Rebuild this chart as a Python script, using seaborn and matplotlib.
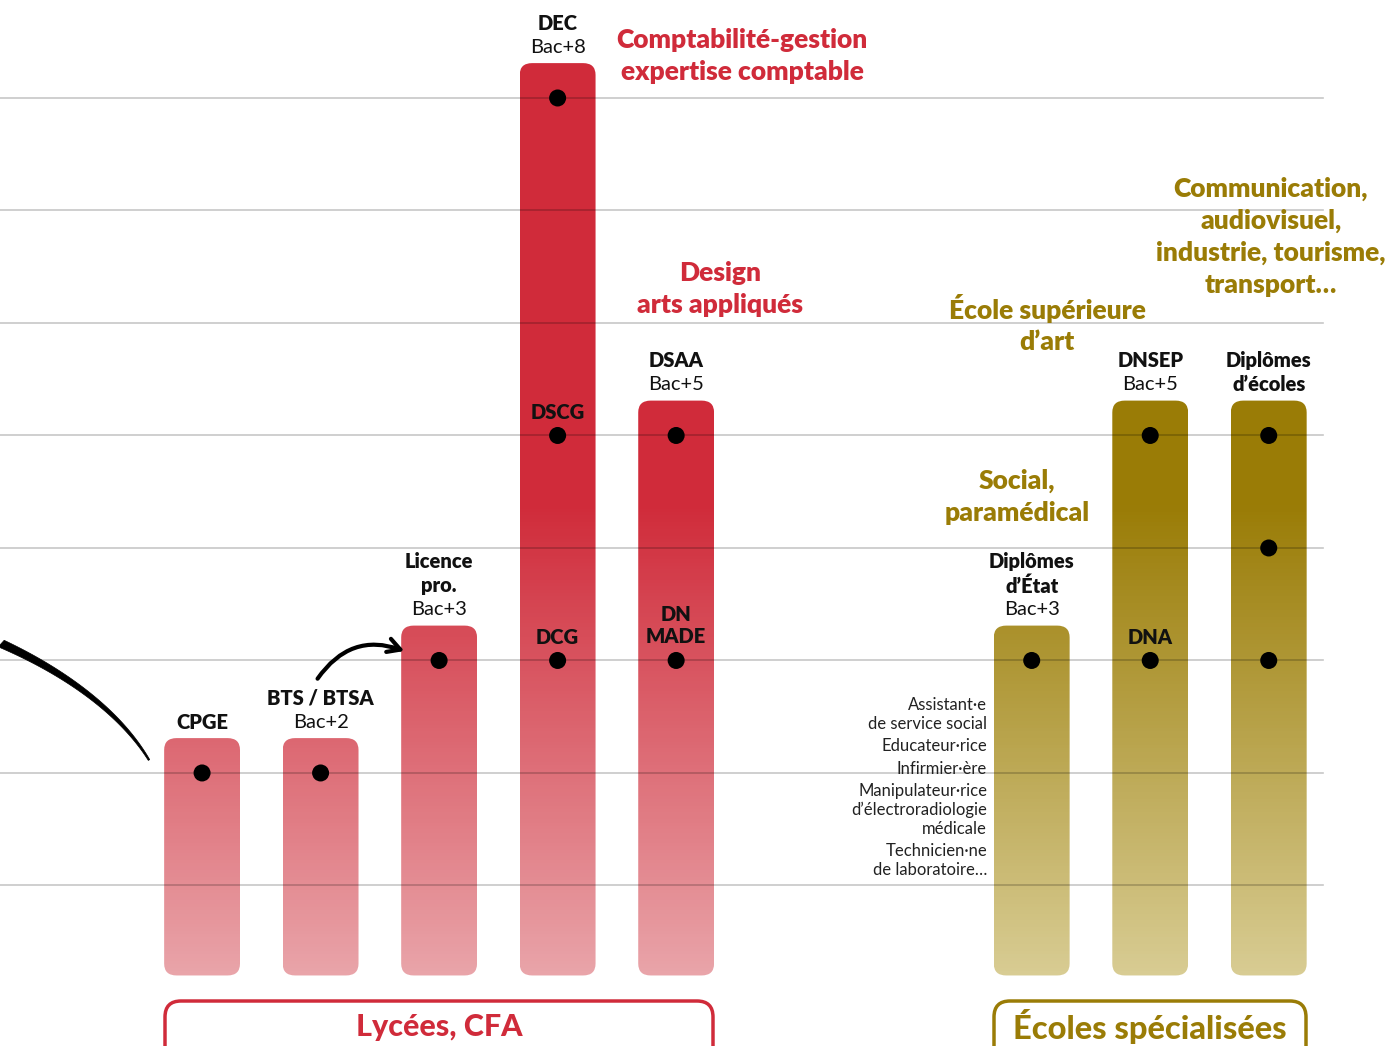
import numpy as np
import matplotlib.pyplot as plt
import matplotlib.colors as mcolors
from matplotlib.patches import FancyBboxPatch, FancyArrowPatch, PathPatch
from matplotlib.path import Path
import seaborn as sns

# one bar per diploma: slot on the x scale and highest level reached (years after bac)
diplomes = ['CPGE', 'BTS / BTSA', 'Licence pro.', 'DEC', 'DSAA',
            "Diplômes d'État", 'DNSEP', "Diplômes d'écoles"]
positions = [0, 1, 2, 3, 4, 7, 8, 9]
niveau_max = [2, 2, 3, 8, 5, 3, 5, 5]
filiere = ['lycee', 'lycee', 'lycee', 'lycee', 'lycee', 'ecole', 'ecole', 'ecole']

# dots: bar index + level
points_bar = [0, 1, 2, 3, 3, 3, 4, 4, 5, 6, 6, 7, 7, 7]
points_niveau = [2, 2, 3, 3, 5, 8, 3, 5, 3, 3, 5, 3, 4, 5]

# labels above bars (bottom line first), True = bold
labels_haut = [
    [('CPGE', True)],
    [('Bac+2', False), ('BTS / BTSA', True)],
    [('Bac+3', False), ('pro.', True), ('Licence', True)],
    [('Bac+8', False), ('DEC', True)],
    [('Bac+5', False), ('DSAA', True)],
    [('Bac+3', False), ('d’État', True), ('Diplômes', True)],
    [('Bac+5', False), ('DNSEP', True)],
    [('d’écoles', True), ('Diplômes', True)],
]
# labels inside bars: bar index, level, text
labels_dedans_bar = [3, 3, 4, 6]
labels_dedans_niv = [5, 3, 3, 3]
labels_dedans_txt = ['DSCG', 'DCG', 'DN\nMADE', 'DNA']

metiers_social = ['Assistant·e', 'de service social', 'Educateur·rice', 'Infirmier·ère',
                  'Manipulateur·rice', 'd’électroradiologie', 'médicale',
                  'Technicien·ne', 'de laboratoire…']

ROUGE, ROSE = '#d02b3a', '#e9a4a9'
OLIVE, SABLE = '#9a7c06', '#d8cc93'
couleurs = {'lycee': (ROUGE, ROSE), 'ecole': (OLIVE, SABLE)}

FONT = ['Lato', 'DejaVu Sans']
plt.rcParams['font.family'] = FONT

fig = plt.figure(figsize=(13.92, 10.46), dpi=100)
ax = fig.add_axes([0, 0, 1, 1])

heights = [n + 0.31 for n in niveau_max]
sns.barplot(x=positions, y=heights, native_scale=True, width=0.64,
            color=ROUGE, ax=ax, zorder=1)

ax.set_xlim(-1.705, 10.04)
ax.set_ylim(-0.427, 8.871)
ax.axis('off')

# vertical gradient: solid colour above ~Bac+4.4, fading to pale at the bottom
grad = np.clip((np.linspace(0, 9, 300) - 0.2) / (4.4 - 0.2), 0, 1)[:, None]
bottom = 0.2
for i, p in enumerate(ax.patches[:len(positions)]):
    x0, w, h = p.get_x(), p.get_width(), p.get_height()
    p.set_visible(False)
    top_c, bot_c = couleurs[filiere[i]]
    cmap = mcolors.LinearSegmentedColormap.from_list('g', [bot_c, top_c])
    box = FancyBboxPatch((x0, bottom), w, h - bottom,
                         boxstyle='round,pad=0,rounding_size=0.105',
                         mutation_aspect=1.0, fc='none', ec='none',
                         transform=ax.transData)
    ax.add_patch(box)
    im = ax.imshow(grad, cmap=cmap, vmin=0, vmax=1, origin='lower', aspect='auto',
                   extent=[x0, x0 + w, 0, 9], zorder=1)
    im.set_clip_path(box)

ax.set_xlim(-1.705, 10.04)
ax.set_ylim(-0.427, 8.871)

for lvl in range(1, 9):
    ax.axhline(lvl, xmin=0, xmax=1323 / 1392, color='black', alpha=0.22, lw=1.2, zorder=2)

sns.scatterplot(x=[positions[b] for b in points_bar], y=points_niveau, color='black',
                s=150, edgecolor='none', ax=ax, zorder=4, legend=False)

for i, lines in enumerate(labels_haut):
    top = heights[i]
    for k, (txt, bold) in enumerate(lines):
        ax.text(positions[i], top + 0.14 + 0.213 * k, txt, ha='center', va='center',
                fontsize=14.5, fontweight='heavy' if bold else 'normal', color='#111111',
                zorder=5)

for b, n, txt in zip(labels_dedans_bar, labels_dedans_niv, labels_dedans_txt):
    nl = txt.count('\n')
    ax.text(positions[b], n + 0.2 + 0.11 * nl, txt, ha='center', va='center', fontsize=14.5,
            fontweight='heavy', color='#111111', linespacing=1.15, zorder=5)

# overlay in pixel coordinates for the free texts and decorations
ov = fig.add_axes([0, 0, 1, 1], facecolor='none')
ov.set_xlim(0, 1392)
ov.set_ylim(1046, 0)
ov.axis('off')

def titre(x, y, txt, col):
    ov.text(x, y, txt, ha='center', va='center', fontsize=19, fontweight='heavy',
            color=col, linespacing=1.38)

titre(742, 56, 'Comptabilité-gestion\nexpertise comptable', ROUGE)
titre(720, 289, 'Design\narts appliqués', ROUGE)
titre(1047, 324, 'École supérieure\nd’art', OLIVE)
titre(1271, 237, 'Communication,\naudiovisuel,\nindustrie, tourisme,\ntransport…', OLIVE)
titre(1017, 497, 'Social,\nparamédical', OLIVE)

ys = [705, 724, 746, 769, 791, 810, 829, 851, 870]
for y, txt in zip(ys, metiers_social):
    ov.text(987, y, txt, ha='right', va='center', fontsize=12, color='#222222')

# bottom group boxes
for x0, x1, txt, col, fs in [(165, 713, 'Lycées, CFA', ROUGE, 22),
                             (994, 1306, 'Écoles spécialisées', OLIVE, 23.5)]:
    ov.add_patch(FancyBboxPatch((x0, 1001), x1 - x0, 80,
                                boxstyle='round,pad=0,rounding_size=16',
                                fc='white', ec=col, lw=2.5))
    ov.text((x0 + x1) / 2, 1027, txt, ha='center', va='center', fontsize=fs,
            fontweight='black', color=col)

# big brush stroke arriving from the left
t = np.linspace(0, 1, 80)[:, None]
P = np.array([[0, 643], [65, 672], [120, 712], [149, 760]])
pts = ((1 - t) ** 3) * P[0] + 3 * ((1 - t) ** 2) * t * P[1] + 3 * (1 - t) * t ** 2 * P[2] + t ** 3 * P[3]
tan = np.gradient(pts, axis=0)
nrm = np.stack([-tan[:, 1], tan[:, 0]], axis=1)
nrm /= np.linalg.norm(nrm, axis=1)[:, None]
wd = (4.2 * (1 - t) + 0.8 * t)
poly = np.vstack([pts + nrm * wd, (pts - nrm * wd)[::-1]])
ov.add_patch(PathPatch(Path(poly, closed=True), fc='black', ec='black', lw=0.5))

ov.add_patch(FancyArrowPatch((316, 681), (407, 652), connectionstyle='arc3,rad=-0.4',
                             arrowstyle='->,head_length=9,head_width=5', lw=3,
                             color='black', mutation_scale=1))

fig.savefig('out.png', dpi=100)
